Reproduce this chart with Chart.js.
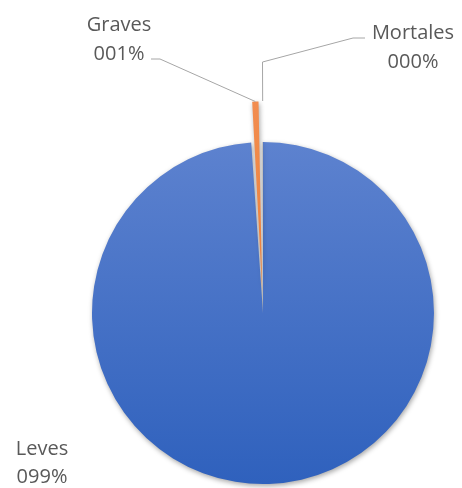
<!DOCTYPE html>
<html><head><meta charset="utf-8">
<script src="https://cdn.jsdelivr.net/npm/chart.js@4.4.1/dist/chart.umd.min.js"></script>
<style>html,body{margin:0;padding:0;background:#fff}#wrap{width:462px;height:488px;position:relative}</style>
</head><body><div id="wrap"><canvas id="c"></canvas></div>
<script>
// ---- data ----
const categories = ['Leves', 'Graves', 'Mortales'];
const values = [98.9, 1.05, 0.05];

// ---- style / layout ----
const explode = [0, 84, 0];   // Chart.js arc offset (drawn shift ~ offset/4 * (2 - sin(circ)))
const colorsTop = ['#5D82CF', '#F28E52', '#B0B0B0'];
const colorsBottom = ['#2F61BD', '#EC7A2C', '#9A9A9A'];
const FONT = '20px "Open Sans"';
const TEXT_COLOR = '#595959';
const LINE_COLOR = '#A6A6A6';
// label layout: text block centre x, baselines, leader-line elbow points (null x => anchor x)
const labelLayout = [
  { cx: 42, base: [455, 483], line: null },
  { cx: 119, base: [31, 60], line: [{x: 160, y: 59}, {x: 151, y: 59}] },
  { cx: 413, base: [39, 68], line: [{x: null, y: 62}, {x: 353, y: 38}, {x: 365, y: 38}], anchorExtra: 41 }
];

function pctLabel(v, total) {
  const p = Math.round(v / total * 100);
  return String(p).padStart(3, '0') + '%';
}

function visualShift(off, circ) {
  return off / 4 * (2 - Math.sin(Math.min(Math.PI, circ)));
}

const shadowPlugin = {
  id: 'shadowPlugin',
  beforeDatasetsDraw(chart) {
    const ctx = chart.ctx;
    ctx.save();
    ctx.shadowColor = 'rgba(0,0,0,0.35)';
    ctx.shadowBlur = 5;
    ctx.shadowOffsetX = 1;
    ctx.shadowOffsetY = 2;
  },
  afterDatasetsDraw(chart) {
    chart.ctx.restore();
  }
};

const labelPlugin = {
  id: 'pieLabels',
  afterDatasetsDraw(chart) {
    const ctx = chart.ctx;
    const meta = chart.getDatasetMeta(0);
    const total = values.reduce((a, b) => a + b, 0);
    ctx.save();
    ctx.shadowColor = 'transparent';
    ctx.font = FONT;
    ctx.fillStyle = TEXT_COLOR;
    ctx.strokeStyle = LINE_COLOR;
    ctx.lineWidth = 1;
    meta.data.forEach((arc, i) => {
      const p = arc.getProps(['x', 'y', 'startAngle', 'endAngle', 'outerRadius', 'circumference'], true);
      const L = labelLayout[i];
      const mid = (p.startAngle + p.endAngle) / 2;
      const extra = L.anchorExtra !== undefined ? L.anchorExtra : visualShift(explode[i], p.circumference);
      const rad = p.outerRadius + extra;
      const ax = p.x + Math.cos(mid) * rad;
      const ay = p.y + Math.sin(mid) * rad;
      if (L.line) {
        ctx.beginPath();
        ctx.moveTo(ax, ay);
        L.line.forEach(pt => ctx.lineTo(pt.x === null ? Math.round(ax) - 0.5 : pt.x, pt.y));
        ctx.stroke();
      }
      ctx.textAlign = 'center';
      ctx.textBaseline = 'alphabetic';
      ctx.fillText(categories[i], L.cx, L.base[0]);
      ctx.fillText(pctLabel(values[i], total), L.cx, L.base[1]);
    });
    ctx.restore();
  }
};

function sliceColor(context) {
  const i = context.dataIndex;
  const chart = context.chart;
  const area = chart.chartArea;
  if (!area || i === undefined) return colorsTop[i || 0];
  const shift = i === 1 ? 40 : 0;
  const g = chart.ctx.createLinearGradient(0, area.top - shift, 0, area.bottom - shift);
  g.addColorStop(0, colorsTop[i]);
  g.addColorStop(1, colorsBottom[i]);
  return g;
}

new Chart(document.getElementById('c'), {
  type: 'pie',
  data: {
    labels: categories,
    datasets: [{
      data: values,
      backgroundColor: sliceColor,
      borderWidth: 0,
      offset: explode
    }]
  },
  options: {
    responsive: true,
    maintainAspectRatio: false,
    animation: false,
    radius: 171,
    layout: { padding: { left: 92, right: 28, top: 142, bottom: 4 } },
    plugins: { legend: { display: false }, tooltip: { enabled: false } }
  },
  plugins: [shadowPlugin, labelPlugin]
});
</script>
</body></html>
